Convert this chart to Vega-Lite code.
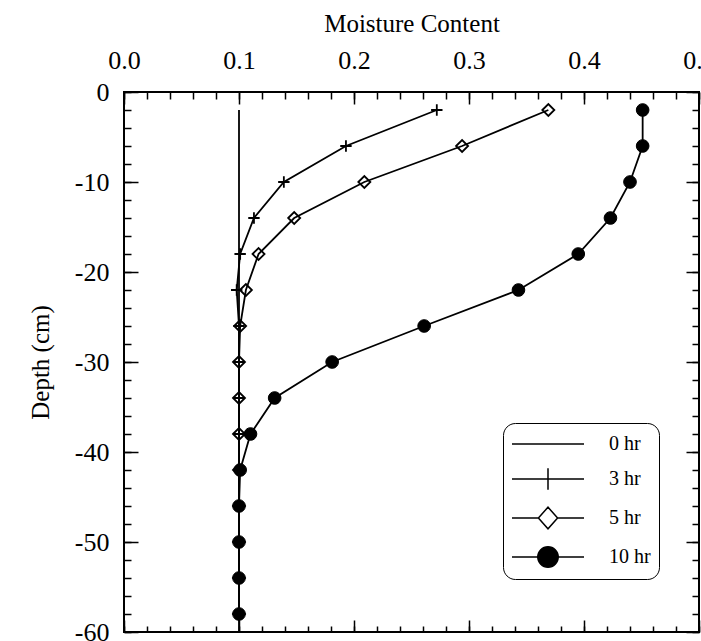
{
  "$schema": "https://vega.github.io/schema/vega-lite/v6.json",
  "width": 575,
  "height": 540,
  "autosize": "none",
  "padding": {"left": 124, "top": 92, "right": 2, "bottom": 9},
  "background": "white",
  "config": {
    "view": {"stroke": "black", "strokeWidth": 2},
    "font": "Liberation Serif",
    "axis": {
      "grid": false,
      "domain": false,
      "tickColor": "black",
      "tickWidth": 1.5,
      "labelColor": "black",
      "titleColor": "black",
      "labelFont": "Liberation Serif",
      "titleFont": "Liberation Serif",
      "labelFontSize": 26,
      "titleFontSize": 25,
      "titleFontWeight": "normal"
    },
    "legend": {
      "orient": "none",
      "legendX": 379,
      "legendY": 331,
      "strokeColor": "black",
      "cornerRadius": 12,
      "padding": 8,
      "labelFont": "Liberation Serif",
      "labelFontSize": 20,
      "labelColor": "black",
      "symbolSize": 576,
      "symbolStrokeColor": "black",
      "symbolStrokeWidth": 1.5,
      "symbolFillColor": "transparent",
      "labelOffset": 72,
      "rowPadding": 11
    }
  },
  "data": {
    "values": [
      {"series": "0 hr", "depth": -2, "moisture": 0.1},
      {"series": "0 hr", "depth": -6, "moisture": 0.1},
      {"series": "0 hr", "depth": -10, "moisture": 0.1},
      {"series": "0 hr", "depth": -14, "moisture": 0.1},
      {"series": "0 hr", "depth": -18, "moisture": 0.1},
      {"series": "0 hr", "depth": -22, "moisture": 0.1},
      {"series": "0 hr", "depth": -26, "moisture": 0.1},
      {"series": "0 hr", "depth": -30, "moisture": 0.1},
      {"series": "0 hr", "depth": -34, "moisture": 0.1},
      {"series": "0 hr", "depth": -38, "moisture": 0.1},
      {"series": "0 hr", "depth": -42, "moisture": 0.1},
      {"series": "0 hr", "depth": -46, "moisture": 0.1},
      {"series": "0 hr", "depth": -50, "moisture": 0.1},
      {"series": "0 hr", "depth": -54, "moisture": 0.1},
      {"series": "0 hr", "depth": -58, "moisture": 0.1},
      {"series": "0 hr", "depth": -60, "moisture": 0.1},
      {"series": "3 hr", "depth": -2, "moisture": 0.272},
      {"series": "3 hr", "depth": -6, "moisture": 0.193},
      {"series": "3 hr", "depth": -10, "moisture": 0.139},
      {"series": "3 hr", "depth": -14, "moisture": 0.113},
      {"series": "3 hr", "depth": -18, "moisture": 0.101},
      {"series": "3 hr", "depth": -22, "moisture": 0.098},
      {"series": "3 hr", "depth": -26, "moisture": 0.1},
      {"series": "3 hr", "depth": -30, "moisture": 0.1},
      {"series": "3 hr", "depth": -34, "moisture": 0.1},
      {"series": "3 hr", "depth": -38, "moisture": 0.1},
      {"series": "3 hr", "depth": -42, "moisture": 0.1},
      {"series": "3 hr", "depth": -46, "moisture": 0.1},
      {"series": "3 hr", "depth": -50, "moisture": 0.1},
      {"series": "3 hr", "depth": -54, "moisture": 0.1},
      {"series": "3 hr", "depth": -58, "moisture": 0.1},
      {"series": "5 hr", "depth": -2, "moisture": 0.369},
      {"series": "5 hr", "depth": -6, "moisture": 0.294},
      {"series": "5 hr", "depth": -10, "moisture": 0.209},
      {"series": "5 hr", "depth": -14, "moisture": 0.148},
      {"series": "5 hr", "depth": -18, "moisture": 0.117},
      {"series": "5 hr", "depth": -22, "moisture": 0.106},
      {"series": "5 hr", "depth": -26, "moisture": 0.101},
      {"series": "5 hr", "depth": -30, "moisture": 0.1},
      {"series": "5 hr", "depth": -34, "moisture": 0.1},
      {"series": "5 hr", "depth": -38, "moisture": 0.1},
      {"series": "5 hr", "depth": -42, "moisture": 0.1},
      {"series": "5 hr", "depth": -46, "moisture": 0.1},
      {"series": "5 hr", "depth": -50, "moisture": 0.1},
      {"series": "5 hr", "depth": -54, "moisture": 0.1},
      {"series": "5 hr", "depth": -58, "moisture": 0.1},
      {"series": "10 hr", "depth": -2, "moisture": 0.451},
      {"series": "10 hr", "depth": -6, "moisture": 0.451},
      {"series": "10 hr", "depth": -10, "moisture": 0.44},
      {"series": "10 hr", "depth": -14, "moisture": 0.423},
      {"series": "10 hr", "depth": -18, "moisture": 0.395},
      {"series": "10 hr", "depth": -22, "moisture": 0.343},
      {"series": "10 hr", "depth": -26, "moisture": 0.261},
      {"series": "10 hr", "depth": -30, "moisture": 0.181},
      {"series": "10 hr", "depth": -34, "moisture": 0.131},
      {"series": "10 hr", "depth": -38, "moisture": 0.11},
      {"series": "10 hr", "depth": -42, "moisture": 0.101},
      {"series": "10 hr", "depth": -46, "moisture": 0.1},
      {"series": "10 hr", "depth": -50, "moisture": 0.1},
      {"series": "10 hr", "depth": -54, "moisture": 0.1},
      {"series": "10 hr", "depth": -58, "moisture": 0.1}
    ]
  },
  "layer": [
    {
      "mark": {"type": "line", "stroke": "black", "strokeWidth": 1.8},
      "encoding": {
        "x": {
          "field": "moisture", "type": "quantitative",
          "scale": {"domain": [0, 0.5], "nice": false, "zero": false},
          "axis": {
            "orient": "top",
            "values": [0, 0.1, 0.2, 0.3, 0.4, 0.5],
            "format": ".1f",
            "tickSize": -12,
            "labelPadding": 31,
            "labelFlush": false,
            "labelOverlap": false,
            "title": "Moisture Content",
            "titlePadding": 11
          }
        },
        "y": {
          "field": "depth", "type": "quantitative",
          "scale": {"domain": [-60, 0], "nice": false, "zero": false},
          "axis": {
            "orient": "left",
            "values": [-60, -50, -40, -30, -20, -10, 0],
            "labelExpr": "toString(datum.value)",
            "tickSize": -14,
            "labelPadding": 29,
            "labelFlush": false,
            "labelOverlap": false,
            "title": "Depth (cm)",
            "titlePadding": 21
          }
        },
        "detail": {"field": "series", "type": "nominal"},
        "order": {"field": "depth", "type": "quantitative"}
      }
    },
    {
      "transform": [{"filter": "datum.series === '3 hr'"}],
      "mark": {"type": "point", "shape": "M-1,0H1M0,-1V1", "size": 130, "stroke": "black", "strokeWidth": 1.8, "filled": false, "opacity": 1},
      "encoding": {
        "x": {
          "field": "moisture", "type": "quantitative",
          "scale": {"domain": [0, 0.5], "nice": false, "zero": false},
          "axis": {
            "orient": "top",
            "values": [0, 0.02, 0.04, 0.06, 0.08, 0.1, 0.12, 0.14, 0.16, 0.18, 0.2, 0.22, 0.24, 0.26, 0.28, 0.3, 0.32, 0.34, 0.36, 0.38, 0.4, 0.42, 0.44, 0.46, 0.48, 0.5],
            "tickSize": -7,
            "labels": false,
            "title": null
          }
        },
        "y": {
          "field": "depth", "type": "quantitative",
          "scale": {"domain": [-60, 0], "nice": false, "zero": false},
          "axis": {
            "orient": "left",
            "values": [-60, -58, -56, -54, -52, -50, -48, -46, -44, -42, -40, -38, -36, -34, -32, -30, -28, -26, -24, -22, -20, -18, -16, -14, -12, -10, -8, -6, -4, -2, 0],
            "tickSize": -7,
            "labels": false,
            "title": null
          }
        }
      }
    },
    {
      "transform": [{"filter": "datum.series === '5 hr'"}],
      "mark": {"type": "point", "shape": "diamond", "size": 144, "stroke": "black", "strokeWidth": 1.8, "filled": false, "opacity": 1},
      "encoding": {
        "x": {
          "field": "moisture", "type": "quantitative",
          "scale": {"domain": [0, 0.5], "nice": false, "zero": false},
          "axis": {
            "orient": "bottom",
            "values": [0, 0.1, 0.2, 0.3, 0.4, 0.5],
            "tickSize": -12,
            "labels": false,
            "title": null
          }
        },
        "y": {
          "field": "depth", "type": "quantitative",
          "scale": {"domain": [-60, 0], "nice": false, "zero": false},
          "axis": {
            "orient": "right",
            "values": [-60, -50, -40, -30, -20, -10, 0],
            "tickSize": -13,
            "labels": false,
            "title": null
          }
        }
      }
    },
    {
      "transform": [{"filter": "datum.series === '10 hr'"}],
      "mark": {"type": "point", "shape": "circle", "size": 160, "fill": "black", "stroke": "black", "strokeWidth": 1, "filled": true, "opacity": 1},
      "encoding": {
        "x": {
          "field": "moisture", "type": "quantitative",
          "scale": {"domain": [0, 0.5], "nice": false, "zero": false},
          "axis": {
            "orient": "bottom",
            "values": [0, 0.02, 0.04, 0.06, 0.08, 0.1, 0.12, 0.14, 0.16, 0.18, 0.2, 0.22, 0.24, 0.26, 0.28, 0.3, 0.32, 0.34, 0.36, 0.38, 0.4, 0.42, 0.44, 0.46, 0.48, 0.5],
            "tickSize": -6,
            "labels": false,
            "title": null
          }
        },
        "y": {
          "field": "depth", "type": "quantitative",
          "scale": {"domain": [-60, 0], "nice": false, "zero": false},
          "axis": {
            "orient": "right",
            "values": [-60, -58, -56, -54, -52, -50, -48, -46, -44, -42, -40, -38, -36, -34, -32, -30, -28, -26, -24, -22, -20, -18, -16, -14, -12, -10, -8, -6, -4, -2, 0],
            "tickSize": -7,
            "labels": false,
            "title": null
          }
        }
      }
    },
    {
      "mark": {"type": "point", "size": 0, "stroke": "black", "strokeWidth": 1.6, "opacity": 1},
      "encoding": {
        "x": {"field": "moisture", "type": "quantitative", "scale": {"domain": [0, 0.5], "nice": false, "zero": false}, "axis": null},
        "y": {"field": "depth", "type": "quantitative", "scale": {"domain": [-60, 0], "nice": false, "zero": false}, "axis": null},
        "shape": {
          "field": "series", "type": "nominal",
          "scale": {
            "domain": ["0 hr", "3 hr", "5 hr", "10 hr"],
            "range": [
              "M-1,0H5",
              "M-1,0H5M2,-0.9V0.9",
              "M-1,0H1.2M2.8,0H5M1.2,0L2,-0.9L2.8,0L2,0.9Z",
              "M-1,0H5M2.85,0A0.85,0.85,0,1,1,1.15,0A0.85,0.85,0,1,1,2.85,0Z"
            ]
          },
          "legend": {"title": null}
        },
        "fill": {
          "field": "series", "type": "nominal",
          "scale": {
            "domain": ["0 hr", "3 hr", "5 hr", "10 hr"],
            "range": ["transparent", "transparent", "transparent", "black"]
          },
          "legend": {"title": null}
        }
      }
    }
  ],
  "resolve": {"axis": {"x": "independent", "y": "independent"}}
}
